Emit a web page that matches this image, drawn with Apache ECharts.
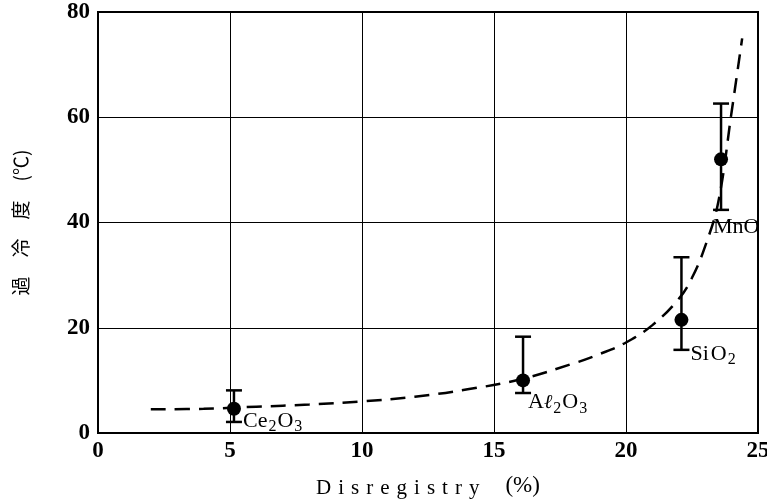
<!DOCTYPE html>
<html><head><meta charset="utf-8">
<script src="https://cdn.jsdelivr.net/npm/echarts@6/dist/echarts.min.js"></script>
<style>html,body{margin:0;padding:0;background:#fff}#c{width:767px;height:502px}</style>
</head><body><div id="c"></div>
<script>
var oxides = ['Ce2O3', 'Al2O3', 'SiO2', 'MnO'];
var disregistry = [5.15, 16.1, 22.1, 23.6];
var undercooling = [4.6, 10.0, 21.5, 52.0];
var errLow = [2.1, 7.6, 15.8, 42.4];
var errHigh = [8.1, 18.3, 33.4, 62.6];
var curveX = [2, 4, 6, 8, 10, 12, 14, 16, 18, 19, 20, 21, 22, 22.5, 23, 23.5, 24, 24.4];
var curveY = [4.5, 4.6, 5.0, 5.4, 6.0, 6.9, 8.3, 10.2, 13.2, 15.0, 17.2, 20.5, 25.5, 29.5, 35.5, 44, 61, 75];
var xTicks = [0, 5, 10, 15, 20, 25];
var yTicks = [0, 20, 40, 60, 80];

var labelRich = {
  Ce2O3: '{n|Ce}{s|2}{n|O}{s|3}',
  Al2O3: '{n|A}{i|ℓ}{s|2}{n|O}{s|3}',
  SiO2: '{n|Si}{g|O}{s|2}',
  MnO: '{n|MnO}'
};
var labelOffsets = {Ce2O3: [-3, 12], Al2O3: [-7, 22], SiO2: [-3, 34], MnO: [-20, 68]};

var serif = '"Liberation Serif", "DejaVu Serif", serif';
var chart = echarts.init(document.getElementById('c'));
chart.setOption({
  animation: false,
  backgroundColor: '#fff',
  grid: {left: 98, right: 9, top: 12, bottom: 69, show: true, borderColor: '#000', borderWidth: 2,
         containLabel: false, outerBoundsMode: 'none'},
  xAxis: {
    type: 'value', min: xTicks[0], max: xTicks[xTicks.length - 1], interval: 5,
    name: '{a|' + 'Disregistry'.split('').join(' \u200A') + '}{b|(%)}', nameLocation: 'middle', nameGap: 40,
    nameTextStyle: {fontFamily: serif, fontSize: 21, color: '#000',
      rich: {a: {fontFamily: serif, fontSize: 21, color: '#000', verticalAlign: 'bottom', lineHeight: 26, padding: [0, 26, 0, 0]},
             b: {fontFamily: serif, fontSize: 23, color: '#000', verticalAlign: 'bottom', lineHeight: 26, padding: [0, 0, 2, 0]}}},
    axisLine: {lineStyle: {color: '#000', width: 2}},
    axisTick: {show: false},
    axisLabel: {fontFamily: serif, fontSize: 23, fontWeight: 'bold', color: '#000', margin: 7},
    splitLine: {show: true, lineStyle: {color: '#000', width: 1}}
  },
  yAxis: {
    type: 'value', min: yTicks[0], max: yTicks[yTicks.length - 1], interval: 20,
    name: '過　冷　度　(℃)', nameLocation: 'middle', nameGap: 68, nameRotate: 90,
    nameTextStyle: {fontFamily: '"Noto Sans CJK JP", sans-serif', fontSize: 19, color: '#000'},
    axisLine: {lineStyle: {color: '#000', width: 2}},
    axisTick: {show: false},
    axisLabel: {fontFamily: serif, fontSize: 23, fontWeight: 'bold', color: '#000', margin: 8},
    splitLine: {show: true, lineStyle: {color: '#000', width: 1}}
  },
  series: [
    {
      type: 'line', smooth: 0.4, showSymbol: false, silent: true,
      data: curveX.map(function (x, i) { return [x, curveY[i]]; }),
      lineStyle: {color: '#000', width: 2.5, type: [15, 9]}
    },
    {
      type: 'custom',
      data: disregistry.map(function (x, i) { return [x, errLow[i], errHigh[i]]; }),
      renderItem: function (params, api) {
        var lo = api.coord([api.value(0), api.value(1)]);
        var hi = api.coord([api.value(0), api.value(2)]);
        var w = 8;
        var st = {stroke: '#000', lineWidth: 2.5};
        return {type: 'group', children: [
          {type: 'line', shape: {x1: lo[0], y1: lo[1], x2: hi[0], y2: hi[1]}, style: st},
          {type: 'line', shape: {x1: lo[0] - w, y1: lo[1], x2: lo[0] + w, y2: lo[1]}, style: st},
          {type: 'line', shape: {x1: hi[0] - w, y1: hi[1], x2: hi[0] + w, y2: hi[1]}, style: st}
        ]};
      }
    },
    {
      type: 'scatter', symbol: 'circle', symbolSize: 14,
      itemStyle: {color: '#000', opacity: 1},
      data: disregistry.map(function (x, i) {
        return {
          value: [x, undercooling[i]],
          label: {show: true, position: 'right', offset: labelOffsets[oxides[i]],
            formatter: labelRich[oxides[i]]}
        };
      }),
      label: {
        color: '#000', opacity: 1,
        rich: {
          n: {fontFamily: serif, fontSize: 22, color: '#000', verticalAlign: 'middle', lineHeight: 28},
          g: {fontFamily: serif, fontSize: 22, color: '#000', verticalAlign: 'middle', lineHeight: 28, padding: [0, 0, 0, 2]},
          i: {fontFamily: '"DejaVu Serif", serif', fontStyle: 'italic', fontSize: 20, color: '#000', verticalAlign: 'middle', lineHeight: 28},
          s: {fontFamily: serif, fontSize: 16, color: '#000', verticalAlign: 'bottom', lineHeight: 16, padding: [0, 1, 0, 1]}
        }
      }
    }
  ]
});
</script>
</body></html>
